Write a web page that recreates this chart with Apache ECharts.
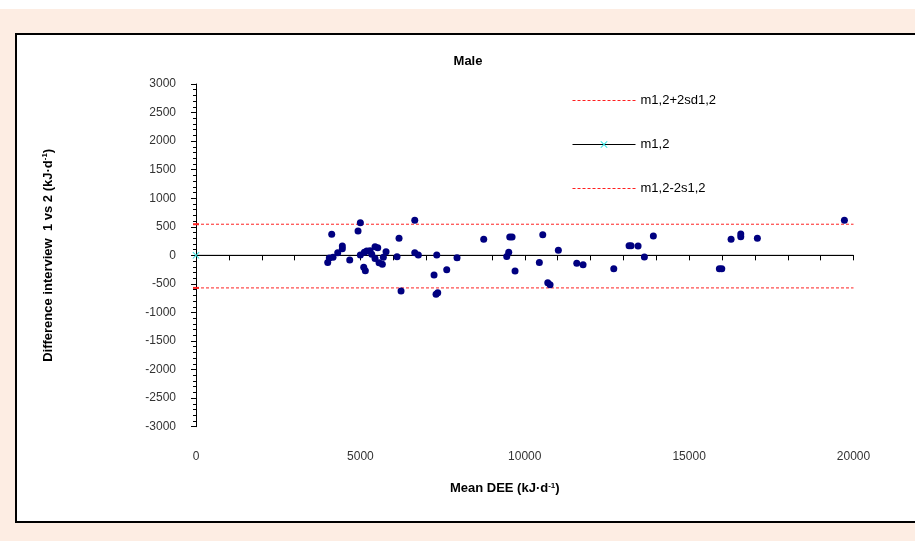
<!DOCTYPE html>
<html>
<head>
<meta charset="utf-8">
<script src="https://cdn.jsdelivr.net/npm/echarts@6/dist/echarts.min.js"></script>
<style>
  html, body { margin: 0; padding: 0; background: #fdede3; }
  #chart { width: 915px; height: 541px; }
</style>
</head>
<body>
<div id="chart"></div>
<script>
// mean DEE (x) and difference interview 1 vs 2 (y)
const meanDee = [
  4007, 4128, 4055, 4168, 4311, 4451, 4451, 4676, 4929, 4999,
  4999, 5102, 5151, 5121, 5194, 5294, 5346, 5446, 5528, 5446,
  5568, 5668, 5699, 5781, 6115, 6176, 6237, 6654, 6654, 6763,
  7323, 7241, 7302, 7353, 7627, 7940, 8752, 9544, 9614, 9452,
  9513, 9705, 10444, 10548, 10700, 10770, 11022, 11582, 11774, 12708,
  13173, 13234, 13447, 13639, 13912, 15920, 15993, 16276, 16571, 16571,
  17076, 19723
]
const diff = [
  -123, 368, -47, -35, 46, 163, 116, -82, 425, 571,
  5, -210, -270, 53, 75, 81, 18, 151, 133, -53,
  -130, -158, -35, 63, -25, 298, -625, 613, 46, 5,
  5, -345, -683, -655, -252, -42, 280, 320, 320, -18,
  53, -275, -123, 361, -480, -515, 88, -140, -165, -235,
  168, 168, 163, -30, 338, -235, -235, 280, 373, 326,
  298, 613
]
const lineX = [0, 20000]
const meanDiff = 0
const upperLimit = 545
const lowerLimit = -570
const legendNames = ['m1,2+2sd1,2', 'm1,2', 'm1,2-2s1,2']

const chart = echarts.init(document.getElementById('chart'))

const crossPath = 'path://M0,1L1,0L5,4L9,0L10,1L6,5L10,9L9,10L5,6L1,10L0,9L4,5Z'

const limitLine = (name, v) => ({
  name,
  type: 'line',
  data: lineX.map((x) => [x, v]),
  symbol: 'none',
  itemStyle: { color: '#ff2020' },
  lineStyle: { color: '#ff2020', width: 1, type: [3, 2] },
  z: 3,
})

const option = {
  backgroundColor: '#fdede3',
  animation: false,
  textStyle: { fontFamily: 'Liberation Sans, Arial, sans-serif' },
  graphic: [
    { type: 'rect', shape: { x: 0, y: 0, width: 915, height: 9 }, style: { fill: '#fff' }, silent: true },
    {
      type: 'rect',
      shape: { x: 16, y: 34, width: 910, height: 488 },
      style: { fill: '#fff', stroke: '#000', lineWidth: 2 },
      silent: true,
    },
  ],
  title: {
    text: 'Male',
    left: 463,
    top: 50,
    textAlign: 'center',
    textStyle: { fontSize: 13, fontWeight: 'bold', color: '#000' },
  },
  legend: {
    data: [
      { name: legendNames[0], itemStyle: { opacity: 0 }, lineStyle: { width: 1 } },
      { name: legendNames[1], lineStyle: { width: 1 } },
      { name: legendNames[2], itemStyle: { opacity: 0 }, lineStyle: { width: 1 } },
    ],
    orient: 'vertical',
    left: 567,
    top: 89,
    itemWidth: 63,
    itemHeight: 9,
    itemGap: 31,
    textStyle: { fontSize: 13, color: '#000' },
  },
  grid: { left: 196, right: 61.5, top: 84, bottom: 114.3 },
  xAxis: {
    type: 'value',
    min: 0,
    max: 20000,
    interval: 5000,
    name: 'Mean DEE (kJ·d{sup|-1})',
    nameLocation: 'middle',
    nameGap: 55,
    nameTextStyle: {
      fontSize: 13,
      fontWeight: 'bold',
      color: '#000',
      padding: [0, 40, 0, 0],
      rich: { sup: { fontSize: 8, fontWeight: 'bold', verticalAlign: 'top', padding: [0, 0, 6, 0] } },
    },
    axisLine: { lineStyle: { color: '#000', width: 1 } },
    axisTick: { length: 5, lineStyle: { color: '#000' } },
    minorTick: { show: true, splitNumber: 5, length: 5, lineStyle: { color: '#000' } },
    axisLabel: { fontSize: 12, color: '#333', margin: 24, formatter: (v) => String(v) },
    splitLine: { show: false },
  },
  yAxis: {
    type: 'value',
    min: -3000,
    max: 3000,
    interval: 500,
    name: 'Difference interview  1 vs 2 (kJ·d{sup|-1})',
    nameLocation: 'middle',
    nameRotate: 90,
    nameGap: 141,
    nameTextStyle: {
      fontSize: 13,
      fontWeight: 'bold',
      color: '#000',
      rich: { sup: { fontSize: 8, fontWeight: 'bold', verticalAlign: 'top', padding: [0, 0, 6, 0] } },
    },
    axisLine: { onZero: false, lineStyle: { color: '#000', width: 1 } },
    axisTick: { length: 5, lineStyle: { color: '#000' } },
    minorTick: { show: true, splitNumber: 5, length: 3, lineStyle: { color: '#000' } },
    axisLabel: { fontSize: 12, color: '#333', margin: 20, formatter: (v) => String(v) },
    splitLine: { show: false },
  },
  series: [
    limitLine(legendNames[0], upperLimit),
    {
      name: legendNames[1],
      type: 'line',
      data: [
        { value: [lineX[0], meanDiff] },
        { value: [lineX[1], meanDiff], symbol: 'none' },
      ],
      symbol: crossPath,
      symbolSize: 7,
      itemStyle: { color: '#33e0e0' },
      lineStyle: { color: '#000', width: 1 },
      z: 3,
    },
    limitLine(legendNames[2], lowerLimit),
    {
      // small red marks where the limit lines meet the y axis
      name: 'limitMarks',
      type: 'scatter',
      data: [[lineX[0], upperLimit], [lineX[0], lowerLimit]],
      symbol: 'rect',
      symbolSize: [6, 2],
      itemStyle: { color: '#ff2020', opacity: 1 },
      z: 3,
    },
    {
      name: 'points',
      type: 'scatter',
      data: meanDee.map((x, i) => [x, diff[i]]),
      symbolSize: 7,
      itemStyle: { color: '#000080', opacity: 1 },
      z: 4,
    },
  ],
}

chart.setOption(option)
</script>
</body>
</html>
